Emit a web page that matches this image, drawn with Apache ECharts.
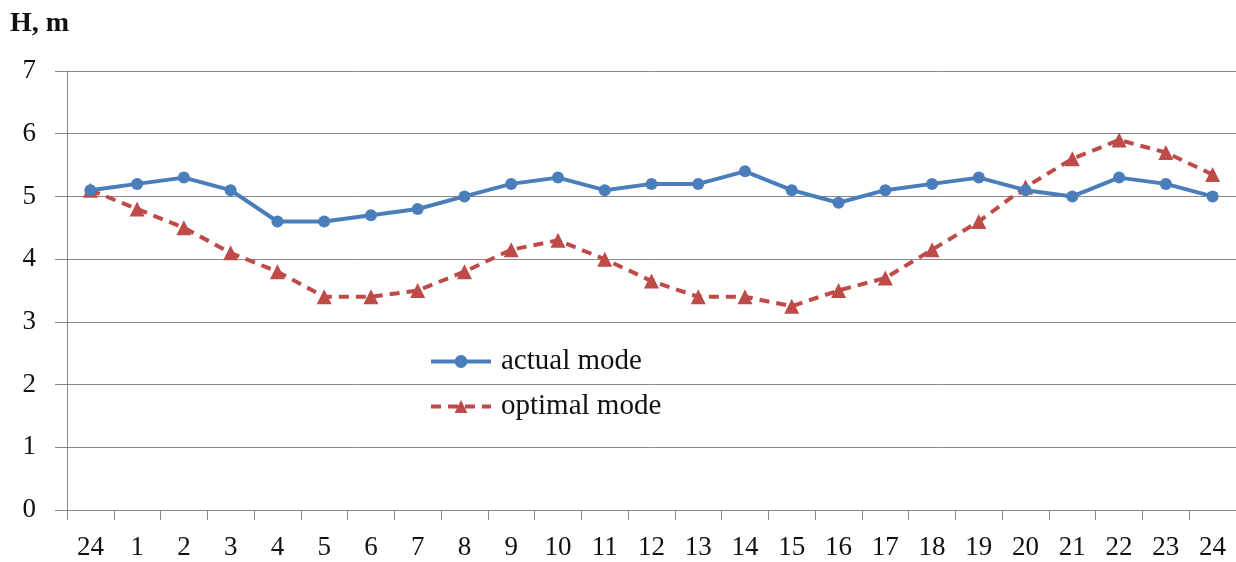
<!DOCTYPE html>
<html>
<head>
<meta charset="utf-8">
<script src="https://cdn.jsdelivr.net/npm/echarts@6/dist/echarts.min.js"></script>
<style>
  html, body { margin: 0; padding: 0; background: #fff; }
  #chart { width: 1236px; height: 562px; }
</style>
</head>
<body>
<div id="chart"></div>
<script>
// hours (starting at 24 and wrapping round)
let hours = ['24', '1', '2', '3', '4', '5', '6', '7', '8', '9', '10', '11', '12',
             '13', '14', '15', '16', '17', '18', '19', '20', '21', '22', '23', '24'];
// head H, m
let actualMode = [5.1, 5.2, 5.3, 5.1, 4.6, 4.6, 4.7, 4.8, 5.0, 5.2, 5.3, 5.1, 5.2,
                  5.2, 5.4, 5.1, 4.9, 5.1, 5.2, 5.3, 5.1, 5.0, 5.3, 5.2, 5.0];
let optimalMode = [5.1, 4.8, 4.5, 4.1, 3.8, 3.4, 3.4, 3.5, 3.8, 4.15, 4.3, 4.0, 3.65,
                   3.4, 3.4, 3.25, 3.5, 3.7, 4.15, 4.6, 5.15, 5.6, 5.9, 5.7, 5.35];
let yTicks = [0, 7, 1];  // min, max, interval

const FONT = '"Liberation Serif", "Times New Roman", serif';
const BLUE = '#4a7ebb';
const RED = '#be4b48';

function initChart(dom){
    let chartDom = document.getElementById(dom);
    let chartInstance = echarts.getInstanceByDom(chartDom);
    if(chartInstance){
        return chartInstance;
    }
    return echarts.init(chartDom, null, {renderer: 'canvas'});
}

let myChart = initChart('chart');
let option = {
    animation: false,
    backgroundColor: '#fff',
    textStyle: { fontFamily: FONT },
    grid: { left: 67, right: 0, top: 71, bottom: 52, containLabel: false },
    legend: {
        orient: 'vertical',
        left: 424,
        top: 342,
        itemWidth: 60,
        itemHeight: 16,
        itemGap: 16,
        textStyle: { fontFamily: FONT, fontSize: 29, color: '#111', padding: [0, 0, 0, 5] },
        lineStyle: { width: 4 },
        data: ['actual mode', 'optimal mode']
    },
    xAxis: {
        type: 'category',
        data: hours,
        boundaryGap: true,
        axisLine: { lineStyle: { color: '#888', width: 1 } },
        axisTick: { show: true, interval: 0, length: 10, lineStyle: { color: '#888' } },
        axisLabel: { interval: 0, fontFamily: FONT, fontSize: 27, color: '#111', margin: 24 },
        splitLine: { show: false }
    },
    yAxis: {
        type: 'value',
        min: yTicks[0],
        max: yTicks[1],
        interval: yTicks[2],
        name: 'H, m',
        nameLocation: 'end',
        nameGap: 0,
        nameTextStyle: {
            fontFamily: FONT, fontSize: 28, fontWeight: 'bold', color: '#111',
            align: 'left', padding: [0, 0, 33, -57]
        },
        axisLine: { show: true, lineStyle: { color: '#888', width: 1 } },
        axisTick: { show: true, length: 12, lineStyle: { color: '#888' } },
        axisLabel: { fontFamily: FONT, fontSize: 27, color: '#111', margin: 31 },
        splitLine: { show: true, lineStyle: { color: '#888', width: 1 } }
    },
    series: [
        {
            name: 'actual mode',
            type: 'line',
            data: actualMode,
            symbol: 'circle',
            symbolSize: 12,
            showAllSymbol: true,
            lineStyle: { color: BLUE, width: 4 },
            itemStyle: { color: BLUE },
            z: 3
        },
        {
            name: 'optimal mode',
            type: 'line',
            data: optimalMode,
            symbol: 'triangle',
            symbolSize: 15,
            showAllSymbol: true,
            lineStyle: { color: RED, width: 4, type: [10, 7] },
            itemStyle: { color: RED },
            z: 2
        }
    ]
};
myChart.setOption(option);
</script>
</body>
</html>
